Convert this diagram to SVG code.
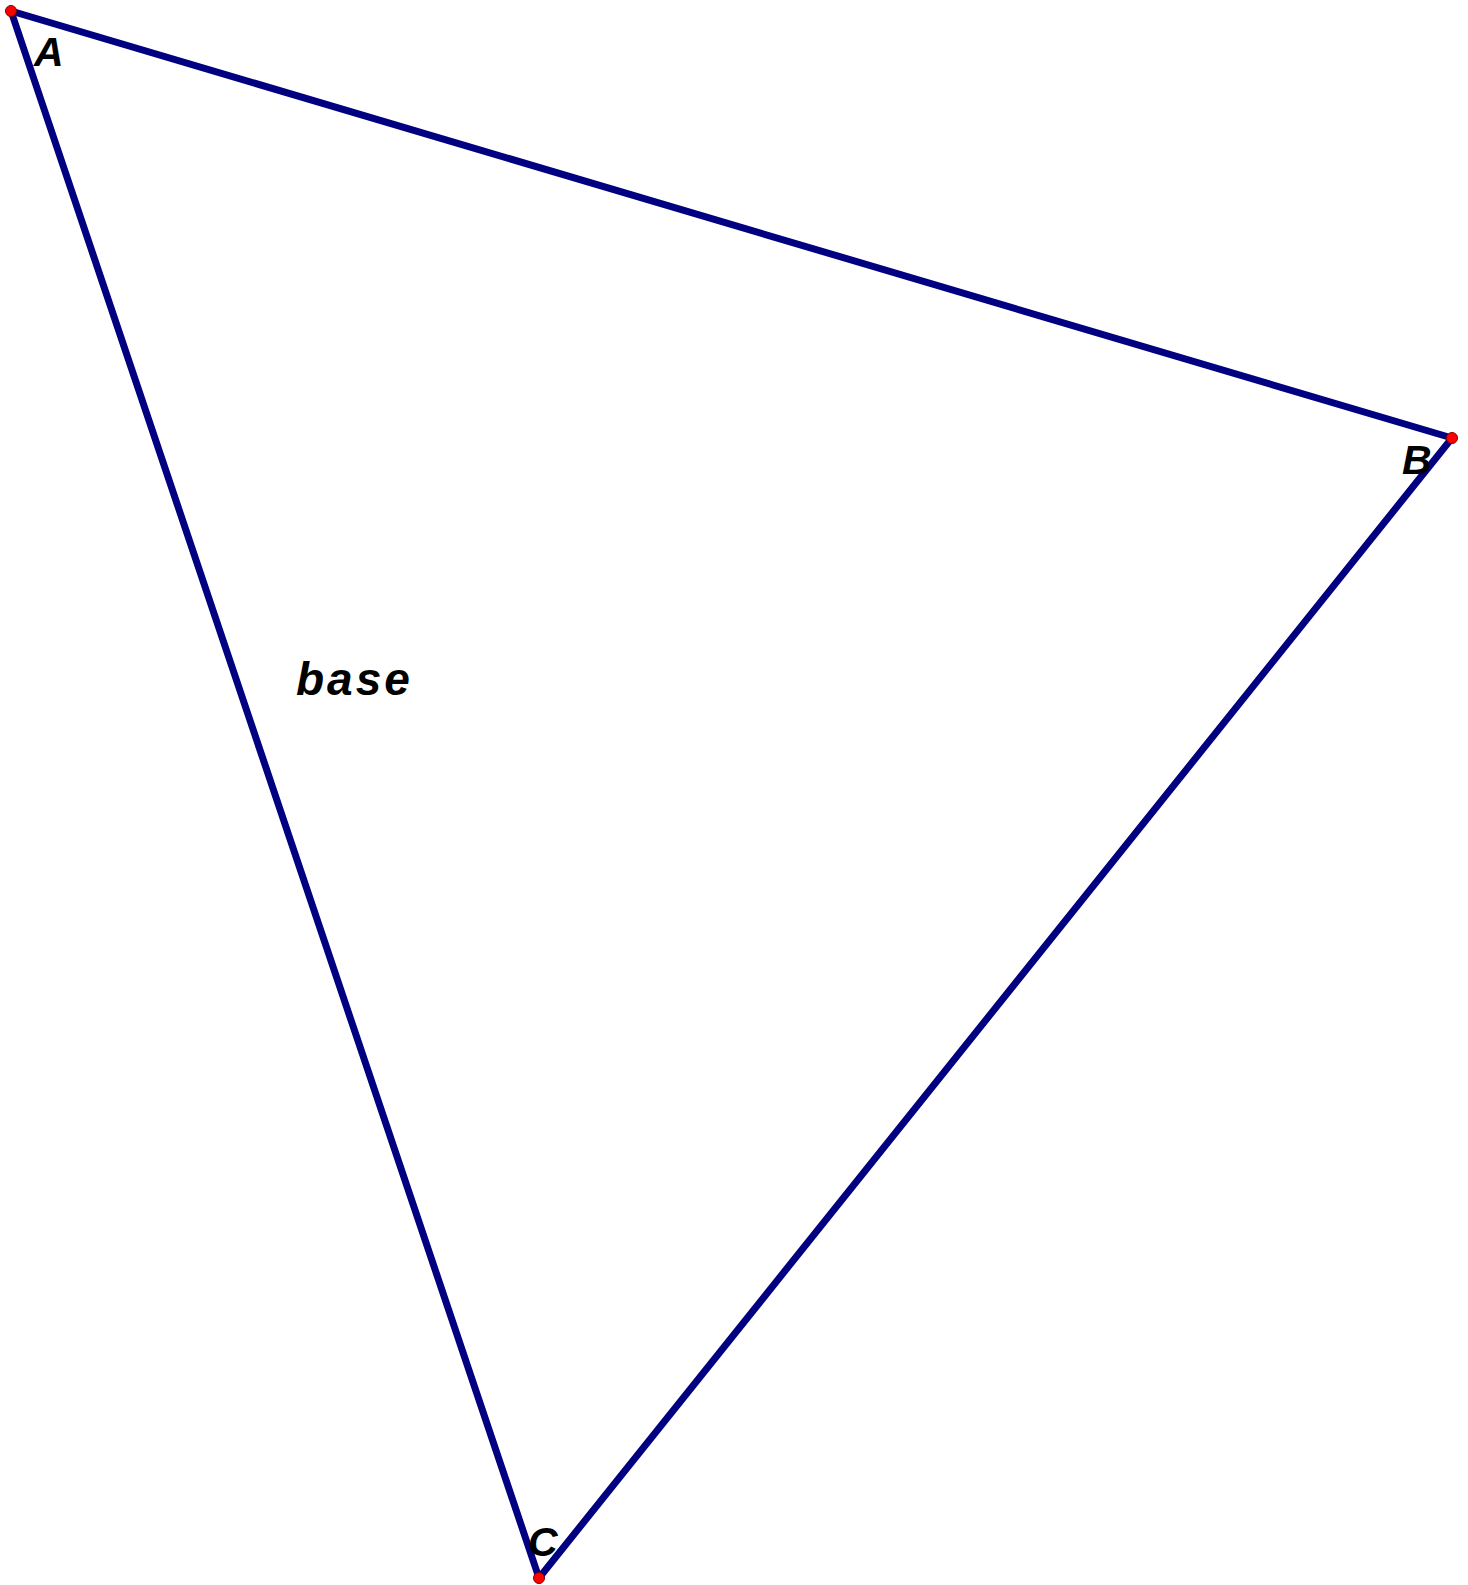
<svg xmlns="http://www.w3.org/2000/svg" width="1468" height="1585" viewBox="0 0 1468 1585">
<style>
.edge{stroke:#000080;stroke-width:7;fill:none;stroke-linecap:round}
.pt{fill:#ff0000;stroke:#800000;stroke-width:1}
.lbl{font-family:"Liberation Sans",Arial,sans-serif;font-weight:bold;font-style:italic;font-size:41px;fill:#000}
</style>
<rect width="1468" height="1585" fill="#fff"/>
<g id="connectors">
<line class="edge" x1="11" y1="11" x2="1452" y2="438"/>
<line class="edge" x1="1452" y1="438" x2="539" y2="1578"/>
<line class="edge" x1="539" y1="1578" x2="11" y2="11"/>
</g>
<g id="A"><circle class="pt" cx="11" cy="11" r="5.5"/><text class="lbl" x="34" y="66">A</text></g>
<g id="B"><circle class="pt" cx="1452" cy="438" r="5.5"/><text class="lbl" x="1402" y="474">B</text></g>
<g id="C"><circle class="pt" cx="539" cy="1578" r="5.5"/><text class="lbl" x="528" y="1556">C</text></g>
<g id="base"><text class="lbl" x="296" y="695" style="font-size:46px;letter-spacing:3px">base</text></g>
</svg>
